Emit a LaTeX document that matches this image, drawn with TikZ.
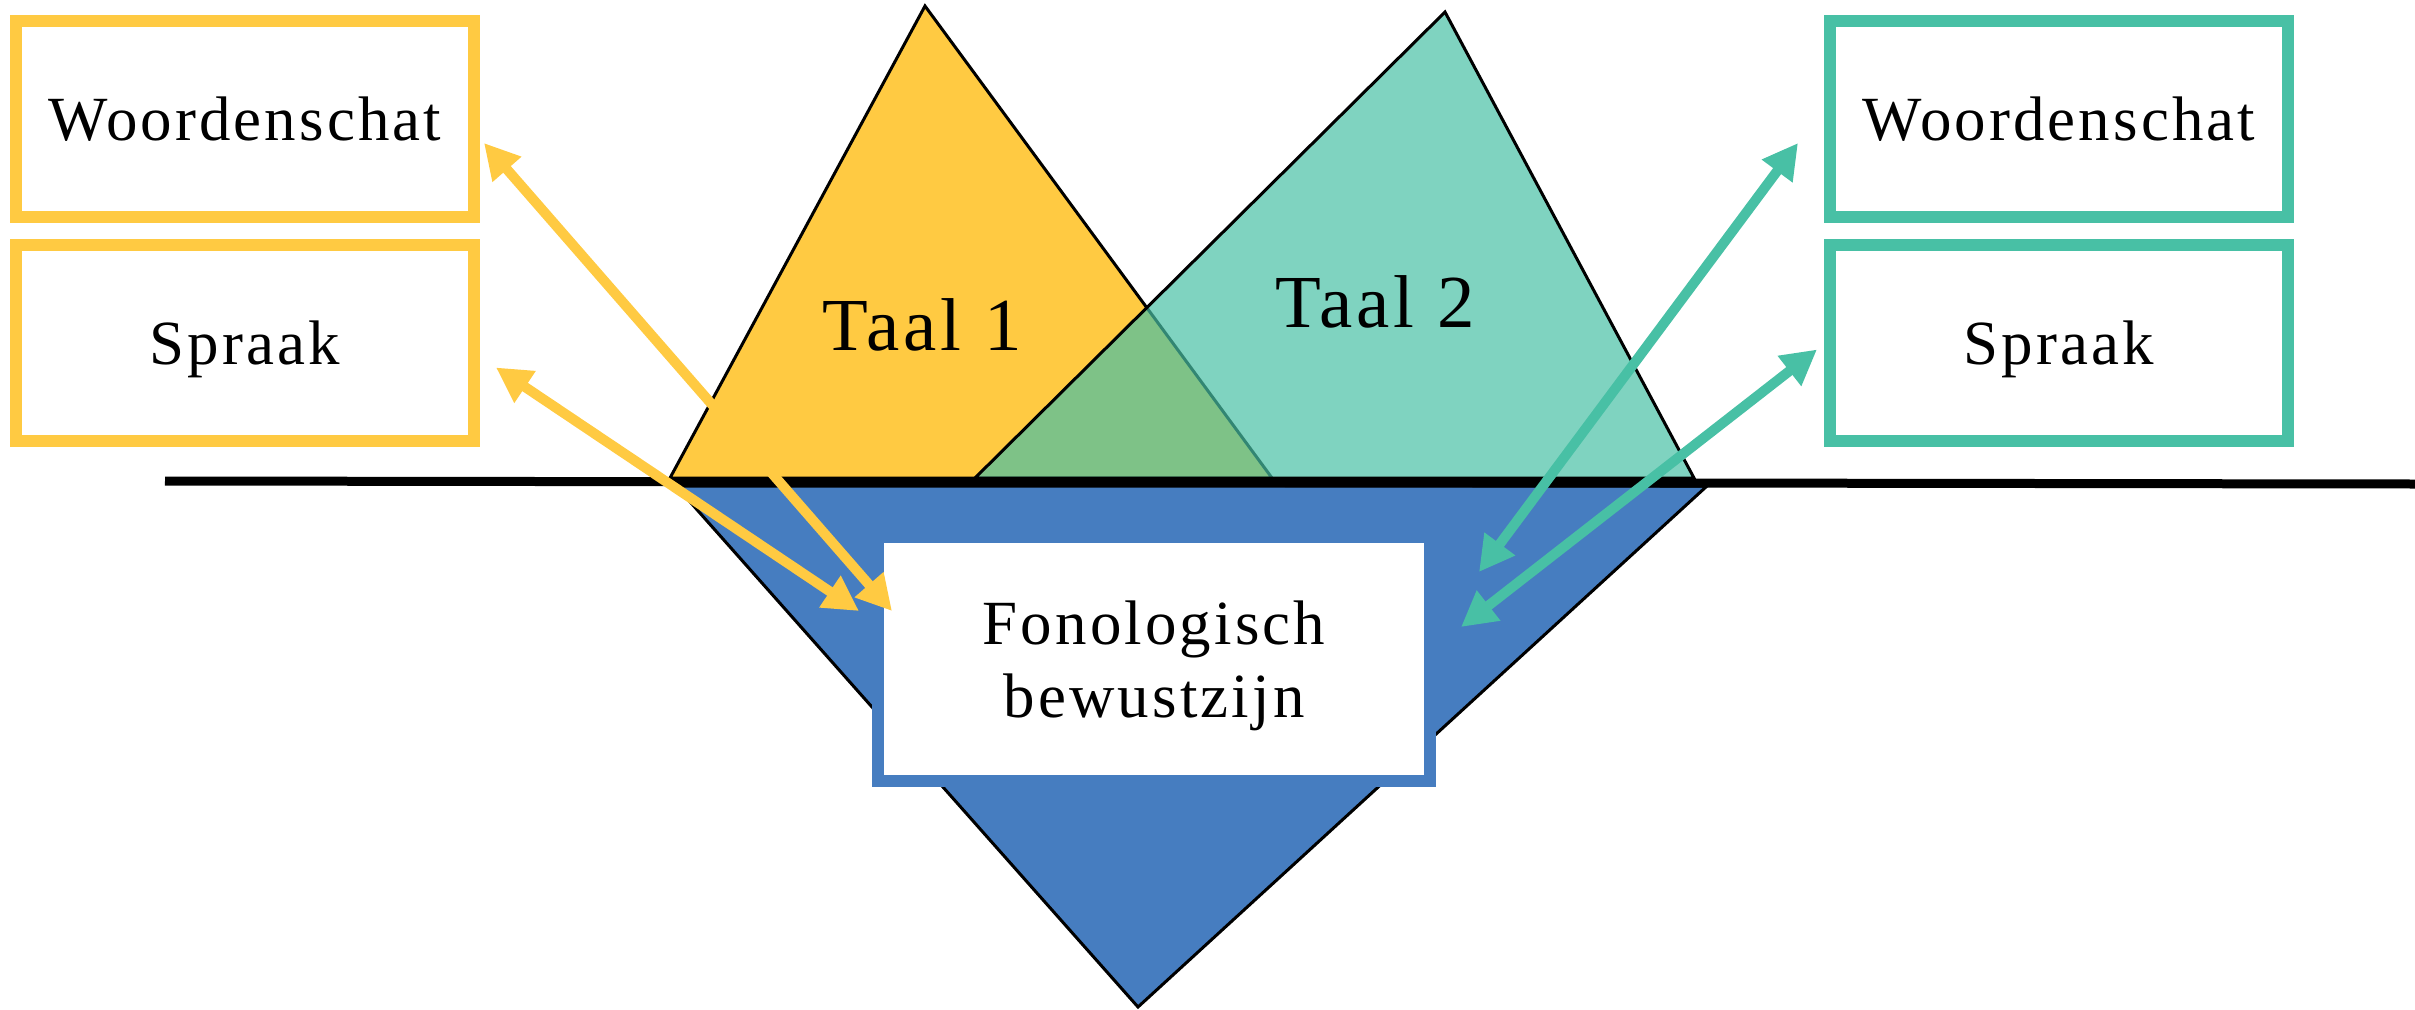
\documentclass[tikz,border=0pt]{standalone}
\usepackage{fontspec}
\setmainfont{Liberation Serif}
\newfontfamily\spacedfont[LetterSpace=5]{Liberation Serif}
\usetikzlibrary{positioning,arrows.meta}
\definecolor{taaleen}{HTML}{FFCA42}
\definecolor{taaltwee}{HTML}{48C0A5}
\definecolor{fonoblue}{HTML}{467DC0}

\begin{document}
\begin{tikzpicture}[
        node distance=0.28cm,
        every node/.style={
            inner sep=0pt,
            outer sep=0pt,
            align=center,
            text=black
        },
        box/.style={
            rectangle,
            draw,
            fill=white,
            line width=0.12cm,
            minimum width=4.58cm,
            minimum height=1.96cm,
            text depth=0pt,
            font=\spacedfont\fontsize{17.9}{20.8}\selectfont
        },
        yellowbox/.style={box, draw=taaleen},
        tealbox/.style={box, draw=taaltwee},
        taallabel/.style={
            anchor=base,
            font=\spacedfont\fontsize{21.3}{24}\selectfont
        },
        outline/.style={draw=black, line width=0.03cm},
        arrow/.style={
            {Triangle[length=0.35cm, width=0.36cm]}-{Triangle[length=0.35cm, width=0.36cm]},
            line width=0.1cm
        }
    ]
        \useasboundingbox (0,0) rectangle (24.15,-10.10);

        % Icebergs
        \draw[outline, fill=taaleen] (6.70,-4.78) -- (9.25,-0.06) -- (12.72,-4.78) -- cycle;
        \draw[outline, fill=taaltwee, fill opacity=0.7] (9.75,-4.78) -- (14.45,-0.12) -- (16.94,-4.78) -- cycle;
        \draw[outline, fill=fonoblue] (6.76,-4.86) -- (17.07,-4.86) -- (11.38,-10.07) -- cycle;
        \draw[line width=0.09cm] (1.65,-4.81) -- (24.15,-4.84);

        \node[taallabel] (taal1) at (9.22,-3.50) {Taal 1};
        \node[taallabel] (taal2) at (13.75,-3.27) {Taal 2};

        \node[box, draw=fonoblue, minimum width=5.52cm, minimum height=2.44cm] (fono) at (11.54,-6.59) {Fonologisch\\bewustzijn};

        % Taal 1
        \node[yellowbox] (woord1) at (2.45,-1.19) {Woordenschat};
        \node[yellowbox, below=of woord1] (spraak1) {Spraak};

        % Taal 2
        \node[tealbox] (woord2) at (20.59,-1.19) {Woordenschat};
        \node[tealbox, below=of woord2] (spraak2) {Spraak};

        % Arrows
        \draw[arrow, taaleen] ([shift={(0.10,-0.24)}]woord1.east) -- ([shift={(0.14,0.48)}]fono.west);
        \draw[arrow, taaleen] ([shift={(0.22,-0.245)}]spraak1.east) -- ([shift={(-0.19,0.48)}]fono.west);
        \draw[arrow, taaltwee] ([shift={(-0.32,-0.24)}]woord2.west) -- ([shift={(0.49,0.87)}]fono.east);
        \draw[arrow, taaltwee] ([shift={(-0.13,-0.065)}]spraak2.west) -- ([shift={(0.31,0.32)}]fono.east);

    \end{tikzpicture}
\end{document}
